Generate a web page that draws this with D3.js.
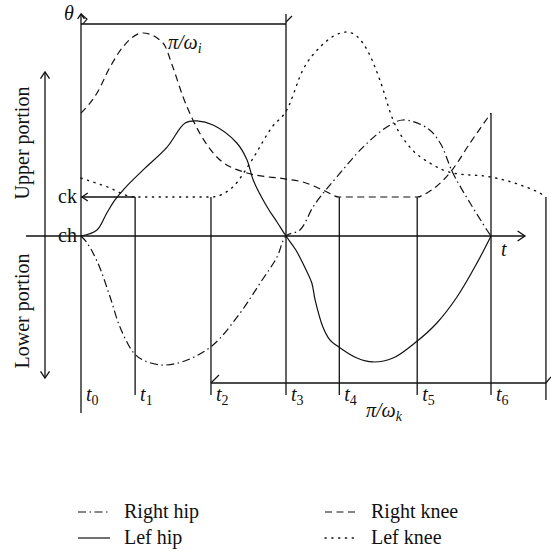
<!DOCTYPE html>
<html>
<head>
<meta charset="utf-8">
<script src="https://cdn.jsdelivr.net/npm/d3@7"></script>
<style>
  body { margin: 0; background: #fff; }
  svg text { font-family: "Liberation Serif", "DejaVu Serif", serif; fill: #111; }
</style>
</head>
<body>
<svg id="chart" width="551" height="554"></svg>
<script>
// time of each tick line t0..t6 (t3 is half a period, t6 a full one)
const tickNames = ["0", "1", "2", "3", "4", "5", "6"];
const tickTimes = [0, 13.2, 31.7, 50, 63, 82, 100];
const ck = 20, ch = 0;
const leftKneeEnd = 113.4;

// joint angle curves, [time, angle]
const rightKnee = [[0, 63], [3.9, 73.3], [7.1, 86.7], [10.2, 96.9], [15.1, 104.1], [20, 99], [22.4, 86.7],
  [24.9, 71.3], [27.3, 59.5], [32.7, 41.5], [40.5, 32.3], [50, 29.2], [54.1, 27.7], [59.5, 23.1],
  [63, 20], [82, 20], [84.4, 22.1], [90.5, 33.8], [94.9, 47.7], [100, 63]];
const leftKnee = [[0, 29.7], [6, 25.5], [13.2, 20], [31.7, 20], [37, 25.1], [41.7, 39], [46.6, 55.9],
  [50.2, 64.6], [54.1, 85.1], [58.3, 96.9], [64.9, 104.6], [69.8, 95.4], [72.9, 80], [76.1, 59.5],
  [80.2, 45.6], [85.1, 37.4], [90.7, 32.3], [99.8, 30.3], [107.1, 26.2], [112.7, 21], [113.4, 20]];
const rightHip = [[0, 0], [1.5, -3.6], [4.1, -13.8], [7.1, -31.3], [9.5, -46.7], [12.7, -59.5], [15.1, -63.6],
  [20, -66.2], [25.9, -63.6], [32.2, -55.9], [38.8, -39.5], [43.7, -24.1], [47.8, -10.8], [50, 0],
  [53.4, 3.1], [56.6, 14.9], [59.5, 23.1], [62.4, 30.3], [68.8, 45.6], [74.6, 55.9], [78.5, 59.5],
  [84.4, 55.4], [87.6, 47.7], [90.7, 32.3], [94.9, 16.9], [99, 3.1], [100, 0]];
const leftHip = [[0, 0], [3.9, 3.1], [6.3, 11.8], [8.3, 18.5], [10.7, 24.6], [15.1, 33.8], [21, 45.6],
  [25.4, 57.9], [28.3, 59], [32.2, 56.9], [38, 47.7], [40.5, 39], [42, 28.7], [45.4, 14.9], [47.8, 7.2],
  [50, 0], [52.4, -7.2], [54.9, -17.4], [56.3, -24.1], [57.1, -32.8], [59, -46.7], [60.7, -53.3],
  [63.2, -57.4], [67.3, -62.6], [71.2, -64.6], [76.1, -62.6], [81.7, -54.4], [86.8, -44.6],
  [91.7, -31.3], [96.6, -13.8], [100, 0]];

const seriesNames = ["Right hip", "Lef hip", "Right knee", "Lef knee"];
const seriesData = [rightHip, leftHip, rightKnee, leftKnee];
const seriesDash = ["8,3.5,1.5,3.5", null, "7,4.5", "1.2,5.6"];

const svg = d3.select("#chart");
const x = d3.scaleLinear().domain([0, 100]).range([81, 491]);
const y = d3.scaleLinear().domain([0, 20]).range([236, 197]);

const g = svg.append("g").attr("stroke", "#111").attr("fill", "none");

function seg(x1, y1, x2, y2, w) {
  g.append("line").attr("x1", x1).attr("y1", y1).attr("x2", x2).attr("y2", y2)
    .attr("stroke-width", w || 1.3);
}
function head(px, py, dir, size) {
  // open chevron arrowhead, dir in degrees (0 = pointing right)
  const s = size || 7, a = dir * Math.PI / 180;
  const p = [-0.6, 0.6].map(d => [px - s * Math.cos(a + d), py - s * Math.sin(a + d)]);
  g.append("path").attr("d", `M${p[0]}L${px},${py}L${p[1]}`).attr("stroke-width", 1.3);
}

const yTop = 14, yBottom = 395;
// vertical theta axis and t axis
seg(x(0), yTop, x(0), 413);
head(x(0), yTop, -90, 6);
seg(26, y(ch), 525, y(ch));
head(525, y(ch), 0, 9);

// half period pi/omega_i on top
const yPeriodTop = 24;
seg(x(0), yPeriodTop, x(tickTimes[3]), yPeriodTop);
g.append("path").attr("d", `M${x(0)},${yTop}L${x(0) + 6},${yTop + 5}L${x(0) + 2},${yTop + 10}`).attr("stroke-width", 1.2);
g.append("path").attr("d", `M${x(tickTimes[3])},${yTop + 8}L${x(tickTimes[3]) + 6},${yTop + 2}`).attr("stroke-width", 1.2);

// tick lines
tickTimes.forEach((t, i) => {
  if (i === 0) return;
  let top = y(ck);
  if (i === 3) top = yTop;
  if (i === 6) top = y(rightKnee[rightKnee.length - 1][1]);
  seg(x(t), top, x(t), yBottom);
});
seg(x(leftKneeEnd), y(ck), x(leftKneeEnd), 400);

// period pi/omega_k at bottom
const yPeriodBot = 383;
seg(x(tickTimes[2]), yPeriodBot, x(leftKneeEnd), yPeriodBot);
g.append("path").attr("d", `M${x(tickTimes[2]) + 8},${yPeriodBot - 8}L${x(tickTimes[2])},${yPeriodBot}`).attr("stroke-width", 1.2);
g.append("path").attr("d", `M${x(leftKneeEnd)},${yPeriodBot}L${x(leftKneeEnd) + 5},${yPeriodBot - 6}`).attr("stroke-width", 1.2);

// ck level
seg(x(0), y(ck), x(tickTimes[1]), y(ck));
head(x(0) + 1, y(ck), 180, 7);

// upper / lower portion arrow
const xPortion = 45;
seg(xPortion, 72, xPortion, 378);
head(xPortion, 72, -90, 8);
head(xPortion, 378, 90, 8);

// curves: hips are smooth, knees keep their flat stretches
const smooth = d3.line().x(d => x(d[0])).y(d => y(d[1])).curve(d3.curveCatmullRom.alpha(0.5));
const flat = d3.line().x(d => x(d[0])).y(d => y(d[1])).curve(d3.curveMonotoneX);
seriesData.forEach((data, i) => {
  g.append("path").attr("d", (i < 2 ? smooth : flat)(data))
    .attr("stroke-width", i === 3 ? 1.4 : 1.2)
    .attr("stroke-linecap", i === 3 ? "round" : "butt")
    .attr("stroke-dasharray", seriesDash[i]);
});

// texts
const fs = 20;
const txt = svg.append("g").attr("font-size", fs);
tickTimes.forEach((t, i) => {
  const tx = txt.append("text").attr("x", x(t) + 5).attr("y", 401).attr("font-style", "italic").text("t");
  tx.append("tspan").attr("font-size", 14).attr("font-style", "normal").attr("dy", 4).text(tickNames[i]);
});
const pi1 = txt.append("text").attr("x", 168).attr("y", 49).attr("font-style", "italic").text("π/ω");
pi1.append("tspan").attr("font-size", 14).attr("dy", 4).text("i");
const pi2 = txt.append("text").attr("x", 366).attr("y", 417).attr("font-style", "italic").text("π/ω");
pi2.append("tspan").attr("font-size", 14).attr("dy", 4).text("k");
txt.append("text").attr("x", 64).attr("y", 20).attr("font-style", "italic").text("θ");
txt.append("text").attr("x", 501).attr("y", 256).attr("font-style", "italic").text("t");
txt.append("text").attr("x", 77).attr("y", y(ck) + 6).attr("text-anchor", "end").text("ck");
txt.append("text").attr("x", 77).attr("y", y(ch) + 6).attr("text-anchor", "end").text("ch");
txt.append("text").attr("transform", "translate(29,143) rotate(-90)").attr("text-anchor", "middle").text("Upper portion");
txt.append("text").attr("transform", "translate(29,311) rotate(-90)").attr("text-anchor", "middle").text("Lower portion");

// legend
const legX = [78, 325], legY = [512, 538];
seriesNames.forEach((name, i) => {
  const lx = legX[Math.floor(i / 2)], ly = legY[i % 2];
  svg.append("line").attr("x1", lx).attr("x2", lx + 32).attr("y1", ly).attr("y2", ly)
    .attr("stroke", "#111").attr("stroke-width", i === 3 ? 1.4 : 1.2)
    .attr("stroke-linecap", i === 3 ? "round" : "butt")
    .attr("stroke-dasharray", seriesDash[i]);
  txt.append("text").attr("x", lx + 46).attr("y", ly + 6).text(name);
});
</script>
</body>
</html>
